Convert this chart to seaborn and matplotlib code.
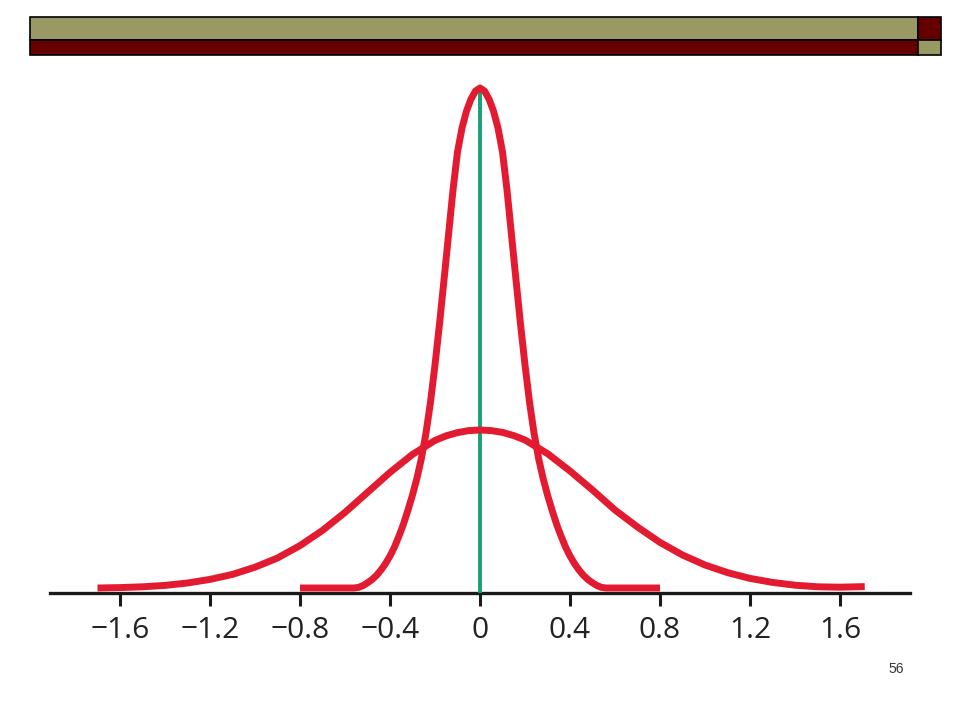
import pandas as pd
import matplotlib.pyplot as plt
import seaborn as sns
from matplotlib.patches import Rectangle

# -------------------- Data --------------------
# narrow curve
narrow_x = [-0.80, -0.56, -0.54, -0.52, -0.50, -0.48, -0.46, -0.44, -0.42, -0.40,
            -0.38, -0.36, -0.34, -0.32, -0.30, -0.28, -0.26, -0.24, -0.22, -0.20,
            -0.18, -0.16, -0.14, -0.12, -0.10, -0.08, -0.06, -0.04, -0.02,
            0.00,
            0.02, 0.04, 0.06, 0.08, 0.10, 0.12, 0.14, 0.16, 0.18, 0.20,
            0.22, 0.24, 0.26, 0.28, 0.30, 0.32, 0.34, 0.36, 0.38, 0.40,
            0.42, 0.44, 0.46, 0.48, 0.50, 0.52, 0.54, 0.56, 0.80]
narrow_y = [0.0, 0.0, 0.003, 0.012, 0.026, 0.042, 0.063, 0.090, 0.122, 0.160,
            0.205, 0.260, 0.320, 0.390, 0.465, 0.550, 0.650, 0.775, 0.930, 1.115,
            1.320, 1.540, 1.765, 1.990, 2.180, 2.300, 2.385, 2.445, 2.485,
            2.500,
            2.485, 2.445, 2.385, 2.300, 2.180, 1.990, 1.765, 1.540, 1.320, 1.115,
            0.930, 0.775, 0.650, 0.550, 0.465, 0.390, 0.320, 0.260, 0.205, 0.160,
            0.122, 0.090, 0.063, 0.042, 0.026, 0.012, 0.003, 0.0, 0.0]

# wide curve
wide_x = [-1.70, -1.60, -1.50, -1.40, -1.30, -1.20, -1.10, -1.00, -0.90, -0.80,
          -0.70, -0.60, -0.50, -0.40, -0.30, -0.20, -0.15, -0.10, -0.05,
          0.00,
          0.05, 0.10, 0.15, 0.20, 0.30, 0.40, 0.50, 0.60, 0.70, 0.80, 0.90, 1.00,
          1.10, 1.20, 1.30, 1.40, 1.50, 1.60, 1.71]
wide_y = [0.000, 0.002, 0.006, 0.013, 0.025, 0.043, 0.068, 0.104, 0.150, 0.212,
          0.288, 0.378, 0.478, 0.578, 0.668, 0.738, 0.761, 0.777, 0.787,
          0.790,
          0.787, 0.778, 0.762, 0.740, 0.672, 0.585, 0.490, 0.390, 0.305, 0.228, 0.165, 0.115,
          0.077, 0.048, 0.028, 0.014, 0.006, 0.004, 0.007]

# centre line
mean_x = [0.0, 0.0]
mean_y = [-0.025, 2.48]

tick_values = [-1.6, -1.2, -0.8, -0.4, 0, 0.4, 0.8, 1.2, 1.6]
tick_labels = ["\u22121.6", "\u22121.2", "\u22120.8", "\u22120.4", "0", "0.4", "0.8", "1.2", "1.6"]
page_number = "56"

# -------------------- Style --------------------
sns.set_theme(style="white")
plt.rcParams["font.family"] = ["Open Sans", "DejaVu Sans"]

red = "#e31b31"
green = "#17a078"

fig = plt.figure(figsize=(9.6, 7.2), dpi=100)
W, H = 960, 720

# header bars
def rect(x0, y0, x1, y1, color):
    fig.patches.append(Rectangle((x0 / W, 1 - y1 / H), (x1 - x0) / W, (y1 - y0) / H,
                                 transform=fig.transFigure, facecolor=color,
                                 edgecolor="black", linewidth=1.2))

rect(30, 17, 918, 40, "#999966")
rect(30, 40, 918, 55, "#660000")
rect(918, 17, 941, 40, "#660000")
rect(918, 40, 941, 55, "#999966")

# axes placed so that x=0 sits at 480px, 225px per unit, baseline at 588px
ax_left, ax_right, ax_top, ax_bottom = 50, 910, 70, 593
ax = fig.add_axes([ax_left / W, 1 - ax_bottom / H, (ax_right - ax_left) / W, (ax_bottom - ax_top) / H])
ax.set_xlim((ax_left - 480) / 225, (ax_right - 480) / 225)
ax.set_ylim((588 - ax_bottom) / 200, (588 - ax_top) / 200)

df_n = pd.DataFrame({"x": narrow_x, "y": narrow_y})
df_w = pd.DataFrame({"x": wide_x, "y": wide_y})

ax.plot(mean_x, mean_y, color=green, linewidth=2.8, zorder=2, solid_capstyle="butt")
sns.lineplot(data=df_w, x="x", y="y", sort=False, color=red, linewidth=5.0,
             solid_capstyle="butt", solid_joinstyle="round", ax=ax, zorder=3)
sns.lineplot(data=df_n, x="x", y="y", sort=False, color=red, linewidth=5.0,
             solid_capstyle="butt", solid_joinstyle="round", ax=ax, zorder=3)

# axis styling
for s in ["top", "right", "left"]:
    ax.spines[s].set_visible(False)
ax.spines["bottom"].set_color("#1a1a1a")
ax.spines["bottom"].set_linewidth(2.4)
ax.spines["bottom"].set_zorder(1)
ax.set_yticks([])
ax.set_xticks(tick_values)
ax.set_xticklabels(tick_labels)
ax.tick_params(axis="x", direction="out", length=9.5, width=2.2, color="#1a1a1a",
               pad=7, labelsize=21.5, labelcolor="#222222", bottom=True)
ax.set_xlabel("")
ax.set_ylabel("")
ax.grid(False)
ax.set_facecolor("white")

fig.text(896 / W, 1 - 669 / H, page_number, ha="center", va="center", fontsize=10,
         color="#333333", family=["Liberation Sans", "DejaVu Sans"])

plt.savefig("out.png", dpi=100)
plt.close()
